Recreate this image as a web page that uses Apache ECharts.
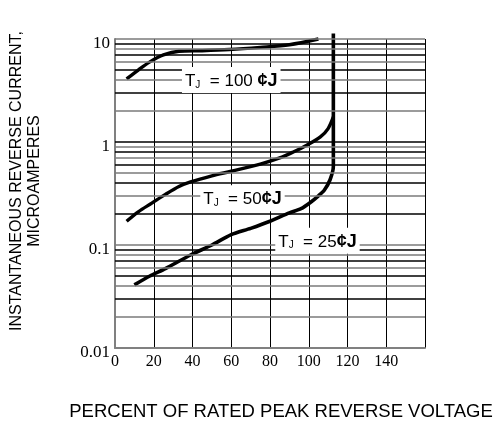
<!DOCTYPE html>
<html>
<head>
<meta charset="utf-8">
<script src="https://cdn.jsdelivr.net/npm/echarts@6/dist/echarts.min.js"></script>
<style>html,body{margin:0;padding:0;background:#fff;}#c{width:501px;height:426px;}</style>
</head>
<body>
<div id="c"></div>
<script>
// Data (percent of rated peak reverse voltage, microamperes)
const t100 = [[6,4.1],[12,5.0],[18,6.0],[25,7.0],[33,7.6],[45,7.7],[59,7.9],[75,8.3],[90,8.8],[105,10]];
const t50 = [[6,0.17],[12,0.21],[19,0.255],[26,0.31],[33,0.37],[39,0.41],[50,0.47],[60,0.52],[75,0.61],[85,0.7],[92,0.8],[99,0.93],[106,1.12],[110,1.35],[112.7,1.75]];
const t25 = [[10,0.041],[18,0.05],[26,0.059],[39,0.08],[50,0.1],[60,0.126],[70,0.145],[80,0.17],[90,0.205],[96,0.225],[101,0.26],[105,0.3],[108,0.34],[111,0.43],[112.7,0.58],[112.7,11.3]];
const gridValues = [0.02,0.03,0.04,0.05,0.06,0.07,0.08,0.09,0.1,0.2,0.3,0.4,0.5,0.6,0.7,0.8,0.9,1,2,3,4,5,6,7,8,9,10];
const labelTexts = ['100', '50', '25'];
const labelCoords = [[60,4.0],[65.8,0.284],[104.5,0.11]];
const xTitle = 'PERCENT OF RATED PEAK REVERSE VOLTAGE';
const yTitle = 'INSTANTANEOUS REVERSE CURRENT,\nMICROAMPERES';

const chart = echarts.init(document.getElementById('c'), null, {renderer:'canvas'});
const serif = '"Liberation Serif", "Times New Roman", serif';
const sans = '"Liberation Sans", Arial, sans-serif';

function tjLabel(i){
  const sep = i === 0 ? ' ' : '';
  return {
    show: true, position: 'inside',
    formatter: '{t|T}{s|J}{e|  = ' + labelTexts[i] + sep + '}{c|¢J}',
    backgroundColor: '#fff', padding: [3,3,3,3],
    rich: {
      t: {fontFamily: sans, fontSize: 17, color:'#000', lineHeight: 20, verticalAlign:'bottom'},
      s: {fontFamily: sans, fontSize: 10, color:'#000', lineHeight: 14, verticalAlign:'bottom'},
      e: {fontFamily: sans, fontSize: 17, color:'#000', lineHeight: 20, verticalAlign:'bottom'},
      c: {fontFamily: sans, fontSize: 18, fontWeight: 'bold', color:'#000', lineHeight: 20, verticalAlign:'bottom'}
    }
  };
}
function markFor(i){
  return {
    silent: true, symbol: 'rect', symbolSize: 1,
    itemStyle: {color: 'rgba(0,0,0,0)'},
    label: tjLabel(i),
    data: [{coord: labelCoords[i]}]
  };
}
const curveStyle = {color:'#000', width: 3.4};

chart.setOption({
  animation: false,
  backgroundColor: '#fff',
  grid: {left: 115, right: 76, top: 39, bottom: 78},
  xAxis: {
    type: 'value', min: 0, max: 160, interval: 20,
    axisLine: {show: true, lineStyle: {color: '#808080', width: 2}},
    axisTick: {show: false},
    splitLine: {show: true, lineStyle: {color: '#000', width: 1}},
    axisLabel: {fontFamily: serif, fontSize: 16, color: '#000', margin: 6,
      formatter: v => v === 160 ? '' : String(v)}
  },
  yAxis: {
    type: 'log', logBase: 10, min: 0.01, max: 10,
    axisLine: {show: true, lineStyle: {color: '#808080', width: 2}},
    axisTick: {show: false},
    splitLine: {show: false},
    axisLabel: {color: '#000', margin: 5,
      formatter: v => '{a|' + String(Number(Number(v).toPrecision(3))) + '}',
      rich: {a: {fontFamily: serif, fontSize: 17, color: '#000', padding: [9,0,0,0]}}}
  },
  graphic: [
    {type: 'text', x: 281, y: 412, style: {text: xTitle, font: '18.5px ' + sans, fill: '#000', align: 'center', verticalAlign: 'middle'}},
    {type: 'text', x: 26, y: 181, rotation: Math.PI/2, style: {text: yTitle, font: '16px ' + sans, fill: '#000', align: 'center', verticalAlign: 'middle', lineHeight: 18}}
  ],
  series: [
    {type: 'line', data: [], z: 1, silent: true,
      markLine: {silent: true, symbol: ['none','none'], label: {show: false}, animation: false,
        data: gridValues.map((v, i) => ({yAxis: v, lineStyle: {color: (i % 2 === 0) ? '#7a7a7a' : '#000', width: 1.5, type: 'solid'}}))}},
    {type: 'line', name: 'TJ=100', data: t100, smooth: 0.3, showSymbol: false, symbol: 'none', lineStyle: curveStyle, z: 3, clip: false, markPoint: markFor(0)},
    {type: 'line', name: 'TJ=50', data: t50, smooth: 0.3, showSymbol: false, symbol: 'none', lineStyle: curveStyle, z: 3, clip: false, markPoint: markFor(1)},
    {type: 'line', name: 'TJ=25', data: t25, smooth: 0.25, showSymbol: false, symbol: 'none', lineStyle: {color:'#000', width: 3.6}, z: 3, clip: false, markPoint: markFor(2)}
  ]
});
</script>
</body>
</html>
